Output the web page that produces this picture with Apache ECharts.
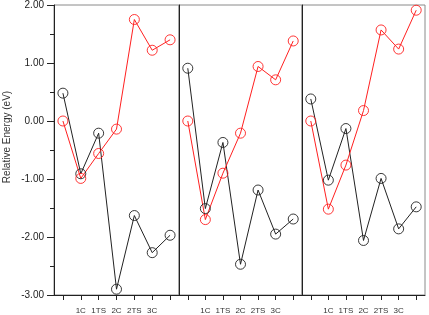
<!DOCTYPE html>
<html><head><meta charset="utf-8">
<script src="https://cdn.jsdelivr.net/npm/echarts@6/dist/echarts.min.js"></script>
<style>html,body{margin:0;padding:0;background:#fff}#c{width:429px;height:315px}</style>
</head><body><div id="c"></div>
<script>
// Categories (first and last positions unlabeled)
const categories = ['', '1C', '1TS', '2C', '2TS', '3C', ''];
// Y-axis tick values
const yTicks = [-3, -2, -1, 0, 1, 2];
// Panel 1
const panel1Black = [0.48, -0.91, -0.21, -2.90, -1.63, -2.27, -1.97];
const panel1Red   = [0.00, -0.99, -0.56, -0.14, 1.75, 1.22, 1.40];
// Panel 2
const panel2Black = [0.91, -1.51, -0.37, -2.47, -1.19, -1.95, -1.69];
const panel2Red   = [0.00, -1.70, -0.90, -0.21, 0.94, 0.71, 1.38];
// Panel 3
const panel3Black = [0.38, -1.02, -0.13, -2.06, -0.99, -1.86, -1.48];
const panel3Red   = [0.00, -1.52, -0.76, 0.18, 1.57, 1.24, 1.91];

const panels = [
  {black: panel1Black, red: panel1Red},
  {black: panel2Black, red: panel2Red},
  {black: panel3Black, red: panel3Red}
];

const FONT = '"Liberation Sans", Arial, Helvetica, sans-serif';
const BLACK = '#222222';
const RED = '#ff2020';

const gridBoxes = [{left: 54, width: 125}, {left: 179, width: 123}, {left: 302, width: 123}];

const chart = echarts.init(document.getElementById('c'), null, {renderer: 'canvas'});

const grid = gridBoxes.map(g => ({
  left: g.left, width: g.width, top: 5, height: 290,
  show: true, borderColor: '#8a8a8a', borderWidth: 1, backgroundColor: 'transparent',
  containLabel: false
}));

const xAxis = gridBoxes.map((g, i) => ({
  type: 'category', gridIndex: i, data: categories, boundaryGap: true,
  axisLine: {show: true, onZero: false, lineStyle: {color: BLACK, width: 1}},
  axisTick: {show: true, alignWithLabel: true, inside: false, length: 5, interval: 0, lineStyle: {color: BLACK}},
  axisLabel: {show: true, interval: 0, fontSize: 8, margin: 12, color: '#333', fontFamily: FONT},
  splitLine: {show: false}
}));

const yAxis = gridBoxes.map((g, i) => ({
  type: 'value', gridIndex: i,
  min: yTicks[0], max: yTicks[yTicks.length - 1], interval: 1,
  name: i === 0 ? 'Relative Energy (eV)' : '',
  nameLocation: 'middle', nameRotate: 90, nameGap: 42,
  nameTextStyle: {fontSize: 10, color: '#333', fontFamily: FONT, padding: [0, 0, 0, 26]},
  axisLine: {show: true, onZero: false, lineStyle: {color: BLACK, width: 1}},
  axisTick: {show: i === 0, inside: false, length: 7, lineStyle: {color: BLACK}},
  minorTick: {show: i === 0, splitNumber: 2, length: 4, lineStyle: {color: BLACK}},
  axisLabel: {show: i === 0, fontSize: 10, margin: 10, color: '#222', fontFamily: FONT,
    formatter: v => v.toFixed(2)},
  splitLine: {show: false},
  minorSplitLine: {show: false}
}));

const series = [];
panels.forEach((p, i) => {
  series.push({
    type: 'line', xAxisIndex: i, yAxisIndex: i, data: p.black,
    symbol: 'circle', symbolSize: 10, animation: false,
    lineStyle: {color: BLACK, width: 1},
    itemStyle: {color: 'rgba(255,255,255,0)', borderColor: BLACK, borderWidth: 0.9},
    emphasis: {disabled: true}
  });
});
panels.forEach((p, i) => {
  series.push({
    type: 'line', xAxisIndex: i, yAxisIndex: i, data: p.red,
    symbol: 'circle', symbolSize: 10, animation: false,
    lineStyle: {color: RED, width: 1},
    itemStyle: {color: 'rgba(255,255,255,0)', borderColor: RED, borderWidth: 0.9},
    emphasis: {disabled: true}
  });
});

chart.setOption({
  animation: false,
  backgroundColor: '#ffffff',
  grid, xAxis, yAxis, series
});
</script>
</body></html>
